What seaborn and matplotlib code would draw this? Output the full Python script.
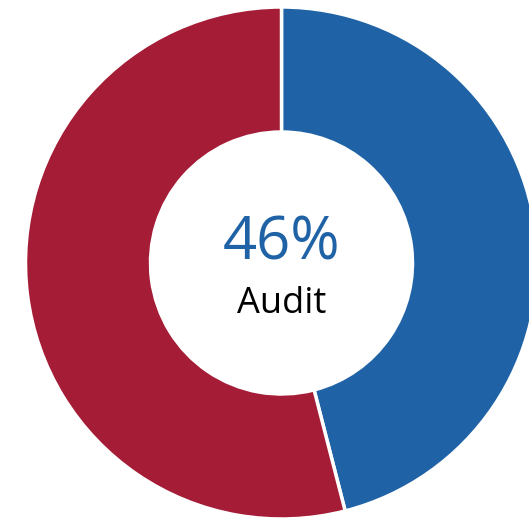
import matplotlib
matplotlib.use("Agg")
import matplotlib.pyplot as plt
import seaborn as sns

labels = ["Audit", "Other"]
values = [46, 54]
colors = ["#1F63A6", "#A51C36"]
center_value = "46%"
center_label = "Audit"

sns.set_theme(style="white")
plt.rcParams['font.family'] = ['Open Sans', 'DejaVu Sans']

W, H = 529, 519
fig = plt.figure(figsize=(W / 100, H / 100), dpi=100)
ax = fig.add_axes([0, 0, 1, 1])
cx, cy, R = 281.5, 263, 256
ax.pie(values, colors=colors, startangle=90, counterclock=False,
       radius=1, wedgeprops=dict(width=1 - 131 / 256, edgecolor="white", linewidth=2.5))
ax.set_aspect("auto")
ax.set_xlim(-cx / R, (W - cx) / R)
ax.set_ylim((cy - H) / R, cy / R)
ax.axis("off")

ax.text(0, (cy - 243) / R, center_value, ha="center", va="center",
        fontsize=43, color=colors[0])
ax.text(0, (cy - 304) / R, center_label, ha="center", va="center",
        fontsize=26, color="black")

fig.savefig("out.png", dpi=100)
